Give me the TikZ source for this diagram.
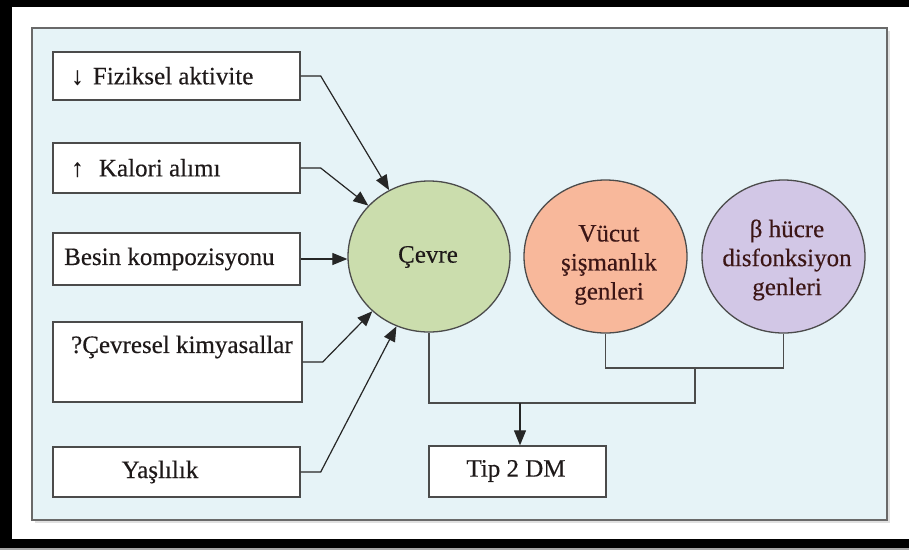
\documentclass[tikz,border=0pt]{standalone}
\usepackage{fontspec}
\setmainfont[FakeBold=0.35]{Liberation Serif}
\usetikzlibrary{shapes.geometric,arrows.meta}
\definecolor{panelbg}{RGB}{230,243,247}
\definecolor{panelline}{RGB}{105,105,105}
\definecolor{boxline}{RGB}{75,75,75}
\definecolor{envfill}{RGB}{203,221,173}
\definecolor{obfill}{RGB}{248,184,155}
\definecolor{betafill}{RGB}{210,199,230}
\definecolor{inktext}{RGB}{30,25,25}
\definecolor{geneink}{RGB}{60,22,22}
\tikzset{
  factor/.style={draw=boxline, line width=1.4pt, fill=white, rectangle, inner sep=0pt},
  bubble/.style={draw=boxline, line width=1.3pt, ellipse, inner sep=0pt},
  lbl/.style={inner sep=0pt, text=inktext, font=\fontsize{25}{29}\selectfont},
  glbl/.style={lbl, text=geneink, align=center},
  arr/.style={draw=black!85, line width=1.2pt, -{Triangle[length=15pt,width=12pt]}},
  link/.style={draw=boxline, line width=1.4pt},
}
\begin{document}
\begin{tikzpicture}[x=1pt,y=-1pt]
\useasboundingbox (0,0) rectangle (909,550);
% outer frame
\fill[white] (0,0) rectangle (909,550);
\fill[black] (0,0) rectangle (909,548);
\fill[gray!70] (0,548) rectangle (909,550);
\fill[white] (12,7) rectangle (909,539);
% panel
\fill[black!12] (35,31) rectangle (890,523);
\draw[panelline, line width=2.2pt, fill=panelbg] (32,28) rectangle (887,520);

% factor boxes
\node[factor, minimum width=247pt, minimum height=48pt] (b1) at (176.5,76) {};
\node[factor, minimum width=247pt, minimum height=50pt] (b2) at (176.5,168) {};
\node[factor, minimum width=247pt, minimum height=52pt] (b3) at (176.5,259) {};
\node[factor, minimum width=249pt, minimum height=80pt] (b4) at (177.5,362) {};
\node[factor, minimum width=247pt, minimum height=50pt] (b5) at (176.5,472) {};
\node[factor, minimum width=177pt, minimum height=51pt] (tip) at (517.5,471.5) {};

\node[lbl, anchor=west] (t1) at (71,76) {↓\ \hspace{3pt}Fiziksel aktivite};
\node[lbl, anchor=west] (t2) at (71,168) {↑\ \hspace{9pt}Kalori alımı};
\node[lbl, anchor=west] (t3) at (64,259) {Besin kompozisyonu};
\node[lbl, anchor=west] (t4) at (71,347) {?Çevresel kimyasallar};
\node[lbl] (t5) at (160,472) {Yaşlılık};
\node[lbl] (t6) at (516,471) {Tip 2 DM};

% circles
\node[bubble, fill=envfill, minimum width=162pt, minimum height=151pt] (cev) at (429,256.5) {};
\node[bubble, fill=obfill, minimum width=163pt, minimum height=153pt] (vuc) at (605.5,256.5) {};
\node[bubble, fill=betafill, minimum width=163pt, minimum height=153pt] (beta) at (783.5,256.5) {};

\node[lbl] (tc) at (428,257) {Çevre};
\node[glbl] (tv) at (609,265) {Vücut\\şişmanlık\\genleri};
\node[glbl] (tb) at (787,260) {β hücre\\disfonksiyon\\genleri};

% inputs into the environment circle
\draw[arr] (b1.east) -- ++(20,0) -- (cev.121);
\draw[arr] (b2.east) -- ++(20,0) -- (cev.140);
\draw[arr] (b3.east) -- (b3.east -| cev.west);
\draw[arr] (b4.east) -- ++(20,0) -- (cev.224);
\draw[arr] (b5.east) -- ++(20,0) -- (cev.245);

% gene bracket and merge
\coordinate (gj) at (695,368);
\coordinate (ej) at (520,403);
\draw[link] (vuc.south) |- (gj) -| (beta.south);
\draw[link] (cev.south) |- (gj |- ej) -- (gj);
\draw[arr] (ej) -- (tip.north -| ej);
\end{tikzpicture}
\end{document}
